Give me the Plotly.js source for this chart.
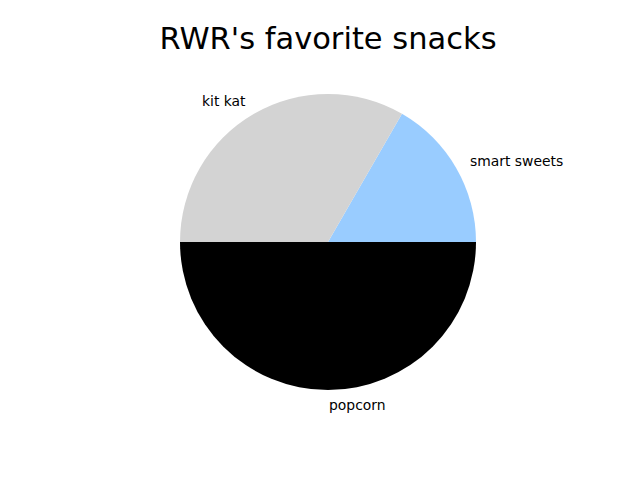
<!DOCTYPE html>
<html>
<head>
<meta charset="utf-8">
<script src="https://cdn.plot.ly/plotly-3.0.1.min.js"></script>
<style>html,body{margin:0;padding:0;background:#fff;}</style>
</head>
<body>
<div id="chart" style="width:640px;height:480px;"></div>
<script>
const labels = ["smart sweets", "kit kat", "popcorn"];
const values = [1, 2, 3];
const colors = ["#99ccff", "lightgray", "black"];

const W = 640, H = 480;
const domX = [0.28125, 0.74375], domY = [0.1875, 0.8042];
const cx = (domX[0] + domX[1]) / 2, cy = (domY[0] + domY[1]) / 2;
const R = Math.min((domX[1] - domX[0]) * W, (domY[1] - domY[0]) * H) / 2;

const trace = {
  type: "pie",
  labels: labels,
  values: values,
  sort: false,
  direction: "counterclockwise",
  rotation: 30,
  marker: {colors: colors, line: {width: 0}},
  textinfo: "none",
  automargin: false,
  showlegend: false,
  domain: {x: domX, y: domY},
  hoverinfo: "label+value"
};

// label positions like matplotlib: 1.1 * radius at each slice's mid-angle
const total = values.reduce((a, b) => a + b, 0);
let cum = 0;
const annotations = labels.map((lab, i) => {
  const mid = 2 * Math.PI * (cum + values[i] / 2) / total;
  cum += values[i];
  const dx = Math.cos(mid), dy = Math.sin(mid);
  return {
    text: lab,
    xref: "paper", yref: "paper",
    x: cx + 1.1 * R * dx / W,
    y: cy + 1.1 * R * dy / H,
    xanchor: dx > -1e-9 ? "left" : "right",
    yanchor: "middle",
    showarrow: false,
    borderpad: 0,
    font: {family: "DejaVu Sans", size: 13.9, color: "black"}
  };
});

const layout = {
  width: W, height: H,
  margin: {l: 0, r: 0, t: 0, b: 0},
  paper_bgcolor: "white",
  annotations: annotations,
  title: {
    text: "RWR's favorite snacks",
    font: {family: "DejaVu Sans", size: 30.5, color: "black"},
    x: 0.5125, xanchor: "center", xref: "paper",
    y: 0.921, yanchor: "middle", yref: "container"
  }
};

Plotly.newPlot("chart", [trace], layout, {displayModeBar: false, staticPlot: true});
</script>
</body>
</html>
